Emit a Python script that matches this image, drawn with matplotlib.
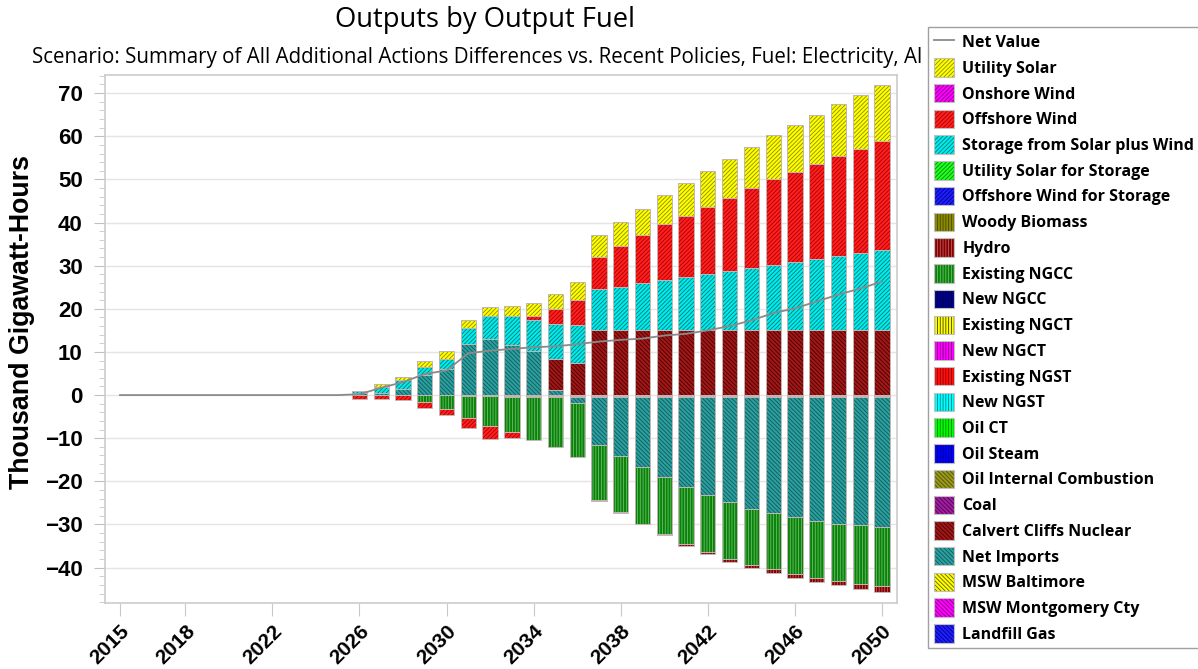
import numpy as np
import matplotlib
matplotlib.use('Agg')
import matplotlib.pyplot as plt
from matplotlib.patches import Patch
from matplotlib.lines import Line2D
from matplotlib.legend_handler import HandlerTuple
from matplotlib.ticker import MultipleLocator, AutoMinorLocator

# data (thousand GWh), years 2026-2050
years = list(range(2026, 2051))
utility_solar = [0.15, 0.7, 0.8, 1.3, 1.9, 1.8, 2.2, 2.4, 3.1, 3.5, 4.2, 5.0, 5.6,
                 6.0, 6.6, 7.6, 8.3, 8.9, 9.5, 10.2, 10.8, 11.4, 12.0, 12.5, 13.1]
offshore_wind = [-0.8, -0.9, -1.2, -1.3, -1.4, -2.3, -3.1, -1.4, 0.9, 3.4, 5.8, 7.5, 9.4,
                 11.2, 13.1, 14.2, 15.6, 17.1, 18.5, 19.9, 21.0, 22.1, 23.2, 24.2, 25.2]
storage_solar_wind = [0.35, 1.4, 1.9, 1.9, 2.3, 3.6, 5.2, 6.8, 7.2, 8.2, 8.7, 9.5, 10.1,
                      10.9, 11.6, 12.3, 13.0, 13.7, 14.4, 15.1, 15.8, 16.5, 17.2, 17.9, 18.6]
existing_ngcc = [0, 0, 0, -1.6, -3.2, -5.1, -6.9, -8.2, -9.9, -11.7, -12.5, -12.8, -12.9,
                 -13.1, -13.1, -13.2, -13.1, -13.2, -13.0, -12.9, -13.2, -13.2, -13.2, -13.5, -13.7]
hydro = [0, 0, 0, 0, 0, 0, 0, 0, 0, 0, 0, -0.2, -0.2,
         -0.2, -0.3, -0.4, -0.6, -0.7, -0.8, -0.9, -1.0, -1.0, -1.1, -1.2, -1.3]
calvert_nuclear = [0, 0, 0, 0, 0, 0, 0, 0, 0, 7.2, 7.5, 15, 15,
                   15, 15, 15, 15, 15, 15, 15, 15, 15, 15, 15, 15]
net_imports = [0.5, 0.5, 1.5, 4.6, 6.1, 11.9, 13.1, 11.5, 10.2, 1.1, -1.5, -11.2, -13.8,
               -16.3, -18.7, -20.9, -22.8, -24.4, -25.9, -27.0, -27.9, -28.7, -29.4, -29.8, -30.2]
msw_baltimore = [0, 0, 0, 0, 0, 0, 0, -0.2, -0.2, -0.2, -0.2, -0.2, -0.2,
                 -0.2, -0.2, -0.2, -0.2, -0.2, -0.2, -0.2, -0.2, -0.2, -0.2, -0.2, -0.2]
msw_montgomery = [0, 0, 0, 0, 0, -0.2, -0.2, -0.2, -0.2, -0.2, -0.2, -0.2, -0.2,
                  -0.2, -0.2, -0.2, -0.2, -0.2, -0.2, -0.2, -0.2, -0.2, -0.2, -0.2, -0.2]

# net value line, 2015-2050
line_years = list(range(2015, 2051))
net_value = [0, 0, 0, 0, 0, 0, 0, 0, 0, 0, 0,
             0.2, 1.7, 3.0, 4.9, 5.7, 9.7, 10.3, 10.7, 11.1, 11.3, 11.8, 12.4, 12.8,
             13.1, 13.8, 14.2, 15.0, 16.0, 17.3, 19.0, 20.1, 21.7, 23.3, 24.7, 26.3]

tick_years = [2015, 2018, 2022, 2026, 2030, 2034, 2038, 2042, 2046, 2050]

D = '////////'
V = '||||||'
B = '\\' * 8
# name, face, hatch colour, hatch (legend order)
styles = [
    ('Utility Solar', '#ffff00', '#8c8c00', D),
    ('Onshore Wind', '#ff00ff', '#800080', D),
    ('Offshore Wind', '#ff2020', '#a80000', D),
    ('Storage from Solar plus Wind', '#00ecec', '#007878', D),
    ('Utility Solar for Storage', '#22ff22', '#008800', D),
    ('Offshore Wind for Storage', '#2020ff', '#000088', D),
    ('Woody Biomass', '#8a8a00', '#4a4a00', V),
    ('Hydro', '#850000', '#c06060', V),
    ('Existing NGCC', '#0a820a', '#6cc06c', V),
    ('New NGCC', '#000090', '#000040', V),
    ('Existing NGCT', '#ffff00', '#404000', V),
    ('New NGCT', '#ff00ff', '#800080', V),
    ('Existing NGST', '#ff1010', '#900000', V),
    ('New NGST', '#00ffff', '#008080', V),
    ('Oil CT', '#00ff00', '#008000', V),
    ('Oil Steam', '#0000ff', '#000080', V),
    ('Oil Internal Combustion', '#9a9a20', '#505000', B),
    ('Coal', '#a020a0', '#500050', B),
    ('Calvert Cliffs Nuclear', '#a01818', '#4a0000', B),
    ('Net Imports', '#2aa0a0', '#145858', B),
    ('MSW Baltimore', '#ffff00', '#606000', B),
    ('MSW Montgomery Cty', '#ff00ff', '#800080', B),
    ('Landfill Gas', '#2020ff', '#000080', B),
]
values = {
    'Utility Solar': utility_solar,
    'Offshore Wind': offshore_wind,
    'Storage from Solar plus Wind': storage_solar_wind,
    'Hydro': hydro,
    'Existing NGCC': existing_ngcc,
    'Calvert Cliffs Nuclear': calvert_nuclear,
    'Net Imports': net_imports,
    'MSW Baltimore': msw_baltimore,
    'MSW Montgomery Cty': msw_montgomery,
}

plt.rcParams['hatch.linewidth'] = 0.6

fig = plt.figure(figsize=(11.98, 6.69), dpi=100)
ax = fig.add_axes([105 / 1198, 1 - 603 / 669, 792 / 1198, 528 / 669])

x = np.array(years)
width = 0.7
pos_bottom = np.zeros(len(years))
neg_bottom = np.zeros(len(years))
edge = '#c4b4b4'

# stack in reverse legend order
for name, face, hc, hatch in reversed(styles):
    if name not in values:
        continue
    v = np.array(values[name], dtype=float)
    pos = np.clip(v, 0, None)
    neg = np.clip(v, None, 0)
    for part, base in ((pos, pos_bottom), (neg, neg_bottom)):
        m = part != 0
        if not m.any():
            continue
        ax.bar(x[m], part[m], width, bottom=base[m], color=face, edgecolor=hc,
               hatch=hatch, linewidth=0, zorder=2)
        ax.bar(x[m], part[m], width, bottom=base[m], fill=False, edgecolor=edge,
               linewidth=0.7, zorder=2.1)
    pos_bottom += pos
    neg_bottom += neg

ax.plot(line_years, net_value, color='#8a8a8a', lw=1.3, zorder=4)

ax.set_xlim(2014.31, 2050.69)
ax.set_ylim(-48.2, 74.2)
ax.set_xticks(tick_years)
ax.set_xticklabels([str(t) for t in tick_years], rotation=45, ha='right',
                   rotation_mode='anchor', fontsize=15, fontweight='bold',
                   family='Liberation Sans')
ax.yaxis.set_major_locator(MultipleLocator(10))
ax.yaxis.set_minor_locator(AutoMinorLocator(5))
for lab in ax.get_yticklabels():
    lab.set_fontsize(16)
    lab.set_fontweight('bold')
    lab.set_family('Liberation Sans')
ax.tick_params(axis='y', which='major', length=8, color='#c0c0c0', pad=8)
ax.tick_params(axis='y', which='minor', length=4, color='#c8c8c8')
ax.tick_params(axis='x', which='major', length=9, color='#c8c8c8', pad=4)
ax.grid(axis='y', color='#e4e4e4', lw=1)
ax.set_axisbelow(True)
for s in ax.spines.values():
    s.set_color('#cccccc')
    s.set_linewidth(1.2)

fig.text(22 / 1198, 1 - 322 / 669, 'Thousand Gigawatt-Hours', rotation=90,
         ha='center', va='center', fontsize=19.3, fontweight='bold',
         family='Liberation Sans')
fig.text(485 / 1198, 1 - 20 / 669, 'Outputs by Output Fuel', ha='center',
         va='center', fontsize=19.7, family='Open Sans')
# subtitle as visible in the reference (cut off by the legend box)
fig.text(32 / 1198, 1 - 58 / 669,
         'Scenario: Summary of All Additional Actions Differences vs. Recent Policies, '
         'Fuel: Electricity, Al', ha='left', va='center', fontsize=14.8,
         family='Open Sans')

handles = [Line2D([], [], color='#8a8a8a', lw=1.3)]
labels = ['Net Value']
for name, face, hc, hatch in styles:
    handles.append((Patch(facecolor=face, edgecolor=hc, hatch=hatch, lw=0),
                    Patch(fill=False, edgecolor='#c0c0c0', lw=0.8)))
    labels.append(name)

leg = fig.legend(handles, labels, loc='upper left', mode='expand',
                 bbox_to_anchor=(928 / 1198, 1 - 647 / 669, 290 / 1198, 620 / 669),
                 frameon=True, fancybox=False, framealpha=1, edgecolor='#a0a0a0',
                 borderaxespad=0, borderpad=0.35, handlelength=1.3,
                 handleheight=1.4, labelspacing=0.45, handletextpad=0.5,
                 prop=dict(family='Open Sans', weight='bold', size=11.5),
                 handler_map={tuple: HandlerTuple(ndivide=1)})
leg.get_frame().set_linewidth(1.0)

fig.savefig('out.png', dpi=100)
